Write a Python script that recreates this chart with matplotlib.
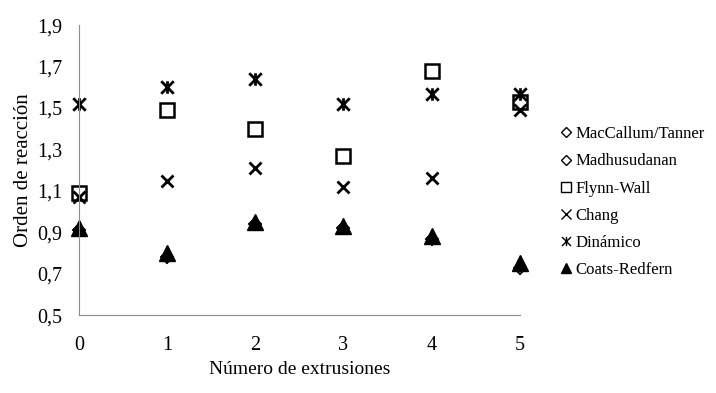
import matplotlib
matplotlib.use("Agg")
import matplotlib.pyplot as plt
from matplotlib.path import Path
from matplotlib.lines import Line2D

plt.rcParams['font.family'] = ['Liberation Serif', 'DejaVu Serif']

extrusiones = [0, 1, 2, 3, 4, 5]
maccallum = [0.91, 0.78, 0.94, 0.92, 0.87, 0.73]
madhusudanan = [0.91, 0.78, 0.94, 0.92, 0.87, 0.73]
flynn_wall = [1.09, 1.49, 1.40, 1.27, 1.68, 1.53]
chang = [1.07, 1.15, 1.21, 1.12, 1.16, 1.49]
dinamico = [1.52, 1.60, 1.64, 1.52, 1.57, 1.57]
coats = [0.92, 0.80, 0.95, 0.93, 0.88, 0.75]

nombres = ['MacCallum/Tanner', 'Madhusudanan', 'Flynn-Wall', 'Chang',
           'Dinámico', 'Coats-Redfern']
yticks = [0.5, 0.7, 0.9, 1.1, 1.3, 1.5, 1.7, 1.9]

# excel style star: an X with a vertical bar
star = Path([(-1, -1), (1, 1), (-1, 1), (1, -1), (0, -1), (0, 1)],
            [Path.MOVETO, Path.LINETO, Path.MOVETO, Path.LINETO,
             Path.MOVETO, Path.LINETO])

fig = plt.figure(figsize=(7.16, 3.93), dpi=100)
ax = fig.add_axes([0.110, 0.198, 0.616, 0.738])

kw = dict(ls='none', clip_on=False, mec='black')
ax.plot(extrusiones, maccallum, marker='D', ms=6, mfc='white', mew=1.2, **kw)
ax.plot(extrusiones, madhusudanan, marker='D', ms=6, mfc='white', mew=1.2, **kw)
ax.plot(extrusiones, flynn_wall, marker='s', ms=10, mfc='none', mew=1.8, **kw)
ax.plot(extrusiones, chang, marker='x', ms=9, mew=2, **kw)
ax.plot(extrusiones, dinamico, marker=star, ms=9, mew=2, **kw)
ax.plot(extrusiones, coats, marker='^', ms=12, mfc='black', **kw)

ax.set_xlim(0, 5)
ax.set_ylim(0.5, 1.9)
ax.set_xticks(extrusiones)
ax.set_yticks(yticks)
ax.set_yticklabels([f"{v:.1f}".replace('.', ',') for v in yticks])
ax.tick_params(length=0, labelsize=14.5)
ax.tick_params(axis='y', pad=12)
ax.tick_params(axis='x', pad=15)
for s in ['top', 'right']:
    ax.spines[s].set_visible(False)
for s in ['left', 'bottom']:
    ax.spines[s].set_color('#8c8c8c')
ax.set_ylabel('Orden de reacción', fontsize=15, labelpad=3)
ax.set_xlabel('Número de extrusiones', fontsize=14, labelpad=4)

# legend handles: small thin markers like the excel legend
lw = dict(ls='none', color='black', mec='black')
handles = [
    Line2D([], [], marker='D', ms=5, mfc='white', mew=1, **lw),
    Line2D([], [], marker='D', ms=5, mfc='white', mew=1, **lw),
    Line2D([], [], marker='s', ms=6.5, mfc='white', mew=1, **lw),
    Line2D([], [], marker='x', ms=6.5, mew=1, **lw),
    Line2D([], [], marker=star, ms=6.5, mew=1, **lw),
    Line2D([], [], marker='^', ms=7.5, mfc='black', **lw),
]
ax.legend(handles, nombres, loc='center left', bbox_to_anchor=(1.055, 0.39),
          frameon=False, fontsize=12.1, handletextpad=0.15, handlelength=0.8,
          labelspacing=0.66)

fig.savefig('out.png', dpi=100)
